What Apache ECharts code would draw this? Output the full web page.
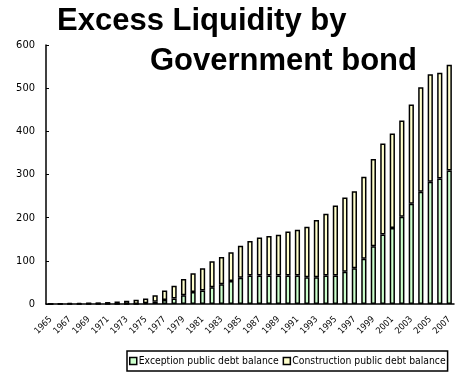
<!DOCTYPE html>
<html>
<head>
<meta charset="utf-8">
<script src="https://cdn.jsdelivr.net/npm/echarts@6/dist/echarts.min.js"></script>
<style>
html,body{margin:0;padding:0;background:#fff;}
#chart{width:455px;height:375px;}
</style>
</head>
<body>
<div id="chart"></div>
<script>
var years = ['1965','1966','1967','1968','1969','1970','1971','1972','1973','1974',
  '1975','1976','1977','1978','1979','1980','1981','1982','1983','1984',
  '1985','1986','1987','1988','1989','1990','1991','1992','1993','1994',
  '1995','1996','1997','1998','1999','2000','2001','2002','2003','2004',
  '2005','2006','2007'];
var exceptionDebt = [0,0,0,0,0,0,0,0,0,0,
  2,5,9,13,20,28,31,39,46,53,
  61,66,66,66,66,66,66,62,62,66,
  66,75,83,105,134,161,176,202,232,260,
  283,291,309];
var constructionDebt = [0.2,0.9,1.9,2.7,3.5,3.8,4.5,5.8,7.5,9.7,
  11,15,22,29.5,38,43,51.6,60,63,67,
  74,80,88,91.5,94.5,102,106,117,132.6,143,
  162,172,178,190,202,211,219,223,230,242,
  249,245,245];
var yTicks = [0,100,200,300,400,500,600];

var narrow = '"Liberation Sans Narrow","Arial Narrow","DejaVu Sans Condensed","Liberation Sans",Arial,sans-serif';
var chart = echarts.init(document.getElementById('chart'), null, {renderer:'canvas'});
chart.setOption({
  animation:false,
  backgroundColor:'#ffffff',
  title:[
    {text:'Excess Liquidity by', left:52, top:1,
     textStyle:{fontFamily:'"Liberation Sans",Arial,sans-serif', fontWeight:'bold', fontSize:31, color:'#000'}},
    {text:'Government bond', left:145, top:41,
     textStyle:{fontFamily:'"Liberation Sans",Arial,sans-serif', fontWeight:'bold', fontSize:31, color:'#000'}}
  ],
  legend:{
    left:127, top:351, width:330, orient:'horizontal',
    padding:[5,2,5,2], itemGap:4, itemWidth:7, itemHeight:7, icon:'rect',
    borderColor:'#000', borderWidth:1.5,
    itemStyle:{borderColor:'#000', borderWidth:1.5},
    textStyle:{fontFamily:narrow, fontSize:10.3, color:'#000', padding:[0,0,0,-3]},
    data:['Exception public debt balance','Construction public debt balance']
  },
  grid:{left:46, right:1, top:45, bottom:71, containLabel:false},
  xAxis:{
    type:'category', data:years, boundaryGap:true,
    axisLine:{lineStyle:{color:'#000', width:1.5}},
    axisTick:{inside:true, length:3, lineStyle:{color:'#000'}},
    axisLabel:{interval:1, rotate:45, fontFamily:narrow, fontSize:9, color:'#000', margin:14}
  },
  yAxis:{
    type:'value', min:0, max:600, interval:100,
    axisLine:{show:true, lineStyle:{color:'#000', width:1.5}},
    axisTick:{show:true, inside:true, length:3, lineStyle:{color:'#000'}},
    splitLine:{show:false},
    axisLabel:{fontFamily:narrow, fontSize:11, color:'#000', margin:11,
      formatter:function(v){return yTicks.indexOf(v)>=0?String(v):'';}}
  },
  series:[
    {name:'Exception public debt balance', type:'bar', stack:'debt', data:exceptionDebt, barWidth:'55%',
     itemStyle:{color:'#ccffcc', borderColor:'#000', borderWidth:1.5}},
    {name:'Construction public debt balance', type:'bar', stack:'debt', data:constructionDebt, barWidth:'55%',
     itemStyle:{color:'#ffffcc', borderColor:'#000', borderWidth:1.5}}
  ]
});
</script>
</body>
</html>
